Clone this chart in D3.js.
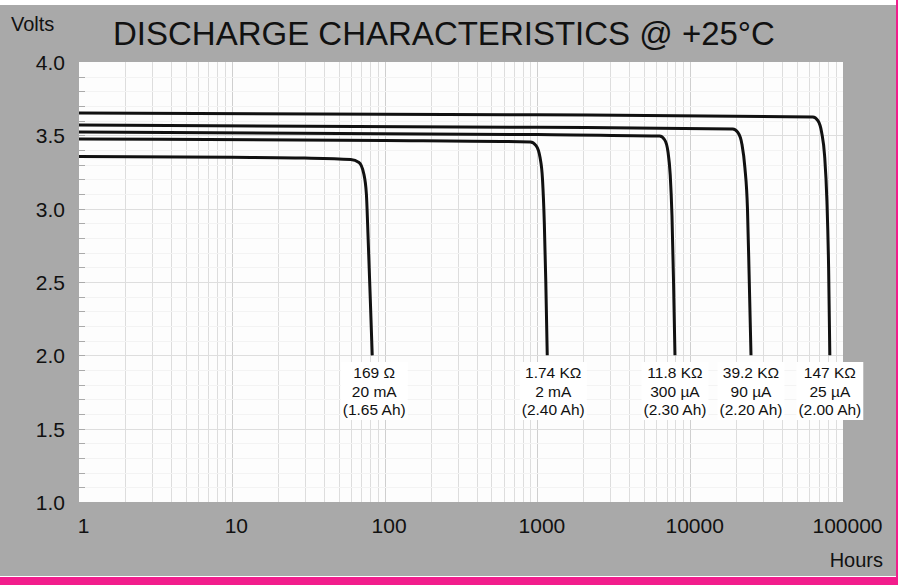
<!DOCTYPE html>
<html><head><meta charset="utf-8">
<script src="https://cdn.jsdelivr.net/npm/d3@7"></script>
<style>body{margin:0;background:#fff}svg{display:block}text{font-family:"Liberation Sans",Arial,Helvetica,sans-serif}</style>
</head><body><svg id="c" width="898" height="585"></svg>
<script>
const titleText = "DISCHARGE CHARACTERISTICS @ +25°C";
const yLabel = "Volts";
const xLabel = "Hours";
const yTicks = [1.0, 1.5, 2.0, 2.5, 3.0, 3.5, 4.0];
const yTickLabels = ["1.0", "1.5", "2.0", "2.5", "3.0", "3.5", "4.0"];
const xTicks = [1, 10, 100, 1000, 10000, 100000];
const xTickLabels = ["1", "10", "100", "1000", "10000", "100000"];

const seriesLoad = ["169 Ω", "1.74 KΩ", "11.8 KΩ", "39.2 KΩ", "147 KΩ"];
const seriesCurrent = ["20 mA", "2 mA", "300 µA", "90 µA", "25 µA"];
const seriesCapacity = ["(1.65 Ah)", "(2.40 Ah)", "(2.30 Ah)", "(2.20 Ah)", "(2.00 Ah)"];

const hours169 = [1, 10, 30, 60, 68, 73, 76, 78, 80.5, 83];
const volts169 = [3.355, 3.35, 3.345, 3.335, 3.315, 3.24, 3.1, 2.8, 2.4, 2.0];
const hours1k74 = [1, 100, 900, 980, 1040, 1080, 1110, 1135, 1160];
const volts1k74 = [3.475, 3.465, 3.455, 3.43, 3.35, 3.2, 2.9, 2.5, 2.0];
const hours11k8 = [1, 1000, 6300, 6800, 7150, 7400, 7600, 7780, 7950];
const volts11k8 = [3.523, 3.505, 3.495, 3.47, 3.39, 3.23, 2.95, 2.5, 2.0];
const hours39k2 = [1, 1000, 19000, 20500, 21800, 22800, 23700, 24300, 25000];
const volts39k2 = [3.57, 3.555, 3.543, 3.52, 3.44, 3.28, 3.0, 2.55, 2.0];
const hours147k = [1, 1000, 63500, 68500, 72500, 75800, 78500, 80500, 82000];
const volts147k = [3.652, 3.64, 3.625, 3.60, 3.52, 3.36, 3.05, 2.6, 2.0];

const seriesHours = [hours169, hours1k74, hours11k8, hours39k2, hours147k];
const seriesVolts = [volts169, volts1k74, volts11k8, volts39k2, volts147k];

const svg = d3.select("#c");
const W = 898, H = 585;
const plot = {l: 79, r: 843, t: 62, b: 502};

// frame
svg.append("rect").attr("x", 0).attr("y", 0).attr("width", W).attr("height", H).attr("fill", "#ffffff");
svg.append("rect").attr("x", 0).attr("y", 5).attr("width", 896).attr("height", 571).attr("fill", "#a9a9a9");
svg.append("rect").attr("x", 0).attr("y", 577).attr("width", W).attr("height", 8).attr("fill", "#f21d8c");
svg.append("rect").attr("x", 896).attr("y", 0).attr("width", 2).attr("height", H).attr("fill", "#f21d8c");

const x = d3.scaleLog().domain([1, 100000]).range([plot.l, plot.r]);
const y = d3.scaleLinear().domain([1, 4]).range([plot.b, plot.t]);

svg.append("rect").attr("x", plot.l).attr("y", plot.t).attr("width", plot.r - plot.l).attr("height", plot.b - plot.t).attr("fill", "#fdfdfd");

const g = svg.append("g");
// vertical grid
const minor = [];
for (let d = 1; d < 100000; d *= 10) for (let k = 2; k <= 9; k++) minor.push(d * k);
g.selectAll("line.vm").data(minor).join("line")
  .attr("x1", d => Math.round(x(d)) + 0.5).attr("x2", d => Math.round(x(d)) + 0.5)
  .attr("y1", plot.t).attr("y2", plot.b).attr("stroke", "#dddddd").attr("stroke-width", 1);
g.selectAll("line.vd").data(xTicks.slice(1, -1)).join("line")
  .attr("x1", d => Math.round(x(d)) + 0.5).attr("x2", d => Math.round(x(d)) + 0.5)
  .attr("y1", plot.t).attr("y2", plot.b).attr("stroke", "#cfcfcf").attr("stroke-width", 1);
// horizontal grid
const yMinor = d3.range(11, 40).map(v => v / 10);
g.selectAll("line.hm").data(yMinor).join("line")
  .attr("x1", plot.l).attr("x2", plot.r)
  .attr("y1", d => Math.round(y(d)) + 0.5).attr("y2", d => Math.round(y(d)) + 0.5)
  .attr("stroke", d => (Math.round(d * 10) % 5 === 0) ? "#dedede" : "#f3f3f3").attr("stroke-width", 1);
// left minor ticks
g.selectAll("line.lt").data(yMinor).join("line")
  .attr("x1", plot.l).attr("x2", plot.l + 6)
  .attr("y1", d => Math.round(y(d)) + 0.5).attr("y2", d => Math.round(y(d)) + 0.5)
  .attr("stroke", "#aaa").attr("stroke-width", 1);

// axes (labels only)
const yAxis = d3.axisLeft(y).tickValues(yTicks).tickFormat((d, i) => yTickLabels[i]).tickSize(0).tickPadding(14);
const ya = svg.append("g").attr("transform", `translate(${plot.l},0)`).call(yAxis);
ya.select(".domain").remove();
ya.selectAll("text").attr("font-size", 21).attr("fill", "#111").attr("font-family", "Liberation Sans, Arial, sans-serif").attr("dy", "0.36em");

const xAxis = d3.axisBottom(x).tickValues(xTicks).tickFormat((d, i) => xTickLabels[i]).tickSize(0).tickPadding(16);
const xa = svg.append("g").attr("transform", `translate(4,${plot.b})`).call(xAxis);
xa.select(".domain").remove();
xa.selectAll("text").attr("font-size", 21).attr("fill", "#111").attr("font-family", "Liberation Sans, Arial, sans-serif");

// curves
const line = d3.line().x(d => x(d[0])).y(d => y(d[1])).curve(d3.curveMonotoneX);
seriesHours.forEach((hs, i) => {
  const pts = hs.map((h, j) => [h, seriesVolts[i][j]]);
  svg.append("path").attr("d", line(pts)).attr("fill", "none").attr("stroke", "#111").attr("stroke-width", 3).attr("stroke-linejoin", "round");
});

// labels
const labelOffset = [2, 6, 0, 0, 0];
seriesHours.forEach((hs, i) => {
  const cx = x(hs[hs.length - 1]) + labelOffset[i];
  const lg = svg.append("g");
  const bg = lg.append("rect").attr("fill", "#ffffff");
  const lines = [seriesLoad[i], seriesCurrent[i], seriesCapacity[i]];
  lines.forEach((t, k) => {
    lg.append("text").attr("x", cx).attr("y", 378 + k * 18.5).attr("text-anchor", "middle")
      .attr("font-size", 15.5).attr("fill", "#111").text(t);
  });
  const bb = lg.node().getBBox();
  bg.attr("x", bb.x - 2).attr("y", bb.y - 2).attr("width", bb.width + 4).attr("height", bb.height + 4);
});

// titles
const tt = svg.append("text").attr("x", 113).attr("y", 45).attr("font-size", 32).attr("fill", "#111").text(titleText);
const tw = tt.node().getComputedTextLength();
tt.attr("font-size", 32 * 662 / tw);
svg.append("text").attr("x", 11).attr("y", 31).attr("font-size", 20).attr("fill", "#111").text(yLabel);
svg.append("text").attr("x", 883).attr("y", 567).attr("text-anchor", "end").attr("font-size", 20).attr("fill", "#111").text(xLabel);
</script></body></html>
